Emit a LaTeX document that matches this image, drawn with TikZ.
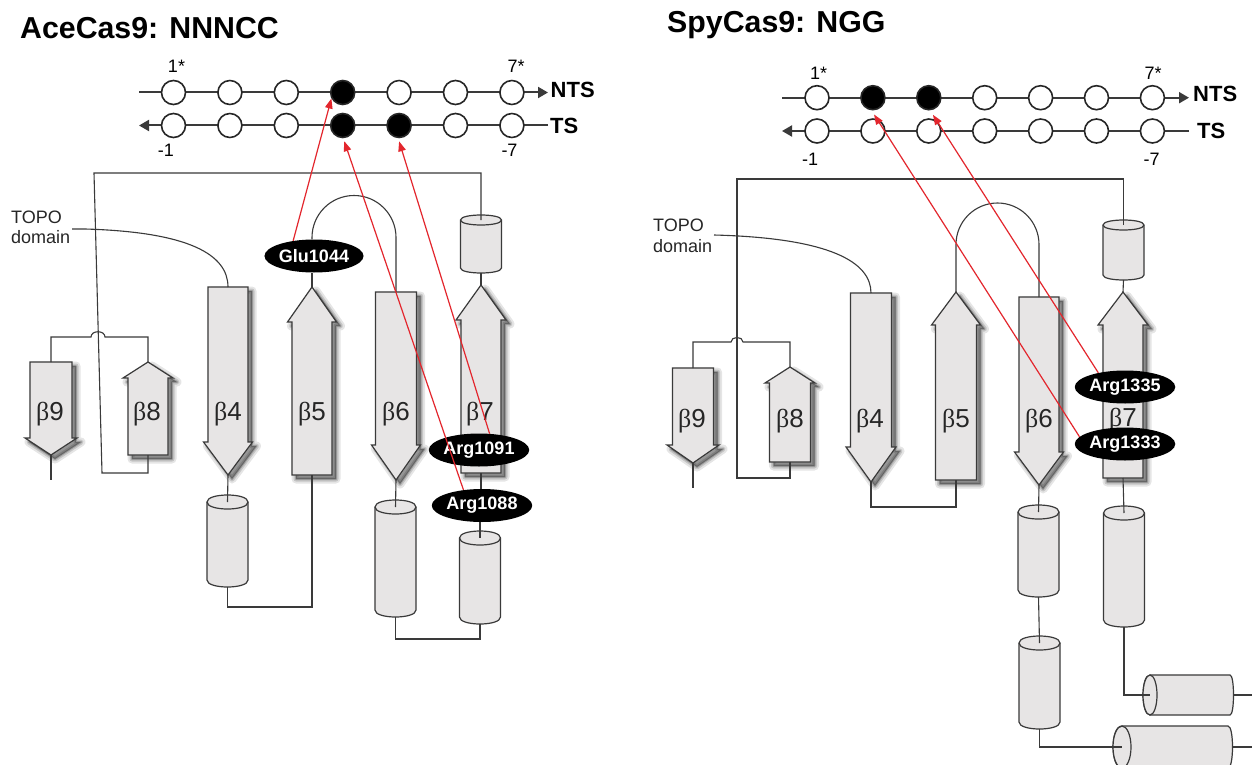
\documentclass[tikz,border=0pt]{standalone}
\usepackage{fontspec}
\setmainfont{Liberation Sans}
\newfontfamily\grkfont{Liberation Serif}
\usetikzlibrary{arrows.meta,shapes.geometric}
\definecolor{lc}{HTML}{3A3A3A}
\definecolor{sfill}{HTML}{E7E5E5}
\definecolor{redc}{HTML}{E3262D}
\tikzset{
  shadowA/.style={draw=black, draw opacity=0.10, line width=9pt, line join=round, fill=black, fill opacity=0.35},
  shadowB/.style={draw=black, draw opacity=0.14, line width=5pt, line join=round},
  shadowC/.style={draw=black, draw opacity=0.2, line width=2pt, line join=round},
  strandbody/.style={fill=sfill, draw=lc, line width=1.2pt, line join=miter},
  cylbody/.style={fill=sfill, draw=lc, line width=1.2pt},
  cylcap/.style={draw=lc, line width=1.2pt},
  conn/.style={draw=lc, line width=1.1pt},
  dnaline/.style={draw=lc, line width=2pt},
  nt/.style={circle, draw=black!85, line width=1.6pt, minimum size=24pt, inner sep=0pt},
  resid/.style={ellipse, fill=black, text=white, font=\fontsize{18}{18}\selectfont\bfseries, minimum width=82pt, minimum height=33pt, inner sep=0pt},
  redarrow/.style={draw=redc, line width=1.2pt, -{Triangle[length=10pt,width=7.5pt]}},
  blabel/.style={font=\fontsize{26}{26}\selectfont, text=black!85, anchor=base, inner sep=0pt},
  titlelab/.style={font=\fontsize{30.3}{31}\selectfont\bfseries, anchor=base west, inner sep=0pt},
  numlab/.style={font=\fontsize{18}{18}\selectfont, anchor=base, inner sep=0pt},
  strandlab/.style={font=\fontsize{22}{22}\selectfont\bfseries, anchor=base west, inner sep=0pt},
  topolab/.style={font=\fontsize{18}{18}\selectfont, anchor=base west, inner sep=0pt, text=black!85},
  dnahead/.style={-{Triangle[length=10pt,width=11pt]}},
}
\newcommand{\dnstrandpath}[6]{({#1-#5},#2) -- ({#1+#5},#2) -- ({#1+#5},#3) -- ({#1+#6},#3) -- (#1,#4) -- ({#1-#6},#3) -- ({#1-#5},#3) -- cycle}
\newcommand{\upstrandpath}[6]{(#1,#2) -- ({#1+#6},#3) -- ({#1+#5},#3) -- ({#1+#5},#4) -- ({#1-#5},#4) -- ({#1-#5},#3) -- ({#1-#6},#3) -- cycle}
% down strand: name cx top headbase tip halfshaft halfhead
\newcommand{\strandDn}[7]{%
  \path[shadowA, shift={(4,4)}] \dnstrandpath{#2}{#3}{#4}{#5}{#6}{#7};
  \path[shadowB, shift={(4,4)}] \dnstrandpath{#2}{#3}{#4}{#5}{#6}{#7};
  \path[shadowC, shift={(4,4)}] \dnstrandpath{#2}{#3}{#4}{#5}{#6}{#7};
  \path[strandbody] \dnstrandpath{#2}{#3}{#4}{#5}{#6}{#7};
  \coordinate (#1-top) at (#2,#3);
  \coordinate (#1-tip) at (#2,#5);
}
% up strand: name cx tip headbase bottom halfshaft halfhead
\newcommand{\strandUp}[7]{%
  \path[shadowA, shift={(4,4)}] \upstrandpath{#2}{#3}{#4}{#5}{#6}{#7};
  \path[shadowB, shift={(4,4)}] \upstrandpath{#2}{#3}{#4}{#5}{#6}{#7};
  \path[shadowC, shift={(4,4)}] \upstrandpath{#2}{#3}{#4}{#5}{#6}{#7};
  \path[strandbody] \upstrandpath{#2}{#3}{#4}{#5}{#6}{#7};
  \coordinate (#1-tip) at (#2,#3);
  \coordinate (#1-bot) at (#2,#5);
}
% vertical cylinder: name cx top bottom halfwidth ry
\newcommand{\cylV}[6]{%
  \path[cylbody] ({#2-#5},#3) -- ({#2-#5},#4) .. controls ({#2-#5},{#4+1.333*#6}) and ({#2+#5},{#4+1.333*#6}) .. ({#2+#5},#4) -- ({#2+#5},#3) .. controls ({#2+#5},{#3-1.333*#6}) and ({#2-#5},{#3-1.333*#6}) .. ({#2-#5},#3) -- cycle;
  \draw[cylcap] ({#2-#5},#3) .. controls ({#2-#5},{#3+1.333*#6}) and ({#2+#5},{#3+1.333*#6}) .. ({#2+#5},#3);
  \coordinate (#1-t) at (#2,#3);
  \coordinate (#1-b) at (#2,{#4+#6});
}
% horizontal cylinder: name leftcx rightchord cy halfheight leftrx rightbulge
\newcommand{\cylH}[7]{%
  \path[cylbody] (#2,{#4-#5}) -- (#3,{#4-#5}) .. controls ({#3+1.333*#7},{#4-#5}) and ({#3+1.333*#7},{#4+#5}) .. (#3,{#4+#5}) -- (#2,{#4+#5}) .. controls ({#2-1.333*#6},{#4+#5}) and ({#2-1.333*#6},{#4-#5}) .. (#2,{#4-#5}) -- cycle;
  \draw[cylbody] (#2,#4) ellipse [x radius=#6, y radius=#5];
  \coordinate (#1-l) at (#2,#4);
  \coordinate (#1-r) at ({#3+#7},#4);
}
\begin{document}
\begin{tikzpicture}[x=1pt,y=-1pt]
\useasboundingbox (0,0) rectangle (1252,765);
\fill[white] (0,0) rectangle (1252,765);

% ---------------- LEFT PANEL: AceCas9 ----------------
\node[titlelab] (ltitle) at (20,39) {AceCas9: NNNCC};

\strandDn{Lb9}{51}{362}{438}{455}{21}{26}
\strandUp{Lb8}{148}{362}{378}{455}{20}{25}
\strandDn{Lb4}{228}{287}{442}{475}{20}{24.5}
\strandUp{Lb5}{312}{287}{322}{475}{20}{24.5}
\strandDn{Lb6}{396}{292}{445}{480}{20.5}{24.5}
\strandUp{Lb7}{481}{285}{320}{473}{20}{25}

\node[blabel] (Lb9-lab) at (50,420) {{\grkfont β}9};
\node[blabel] (Lb8-lab) at (147,420) {{\grkfont β}8};
\node[blabel] (Lb4-lab) at (228,420) {{\grkfont β}4};
\node[blabel] (Lb5-lab) at (312,420) {{\grkfont β}5};
\node[blabel] (Lb6-lab) at (396,420) {{\grkfont β}6};
\node[blabel] (Lb7-lab) at (480,420) {{\grkfont β}7};

\cylV{LC0}{481}{220}{268}{20.5}{5}
\cylV{LC1}{227.5}{502}{580}{20.5}{7}
\cylV{LC2}{395.5}{507}{610}{20.5}{7}
\cylV{LC3}{480}{538}{617}{20.5}{7}

\node[resid] (glu) at (314,256) {Glu1044};
\node[resid] (a1091) at (479,450) {Arg1091};
\node[resid] (a1088) at (482,505.5) {Arg1088};

\node[topolab] (Ltopo1) at (11,223) {TOPO};
\node[topolab] (Ltopo2) at (11,243.5) {domain};

% connectors
\draw[conn] (LC0-t) -- (481,173) -- (94,173) -- (102,473) -- (148,473) -- (Lb8-bot);
\draw[conn] (Lb9-top) -- (51,337) -- (91,337) .. controls (91,330) and (105,330) .. (105,337) -- (148,337) -- (Lb8-tip);
\draw[conn] (Lb9-tip) -- ++(0,25);
\draw[conn] (72,229) -- (85,229) .. controls (190,232) and (228,255) .. (Lb4-top);
\draw[conn] (Lb4-tip) -- (LC1-t);
\draw[conn] (LC1-b) -- (227.5,607) -| (Lb5-bot);
\draw[conn] (Lb5-tip) -- (Lb5-tip |- glu.south);
\draw[conn] (Lb5-tip |- glu.north) -- (312,237.5) .. controls (312,214.3) and (330.8,195.5) .. (354,195.5) .. controls (377.2,195.5) and (396,214.3) .. (396,237.5) -- (Lb6-top);
\draw[conn] (Lb6-tip) -- (LC2-t);
\draw[conn] (LC2-b) -- (395.5,639) -| (LC3-b);
\draw[conn] (LC0-b) -- (Lb7-tip);
\draw[conn] (Lb7-bot) -- (Lb7-bot |- a1088.north);
\draw[conn] (a1088.south -| LC3-t) -- (LC3-t);

% DNA
\coordinate (LnS) at (139,92.5);
\coordinate (LnE) at (548,92.5);
\coordinate (LtS) at (548,125.5);
\coordinate (LtE) at (139,125.5);
\draw[dnaline, dnahead] (LnS) -- (LnE);
\draw[dnaline, dnahead] (LtS) -- (LtE);
\foreach \i/\f in {1/white,2/white,3/white,4/black,5/white,6/white,7/white}
  \node[nt, fill=\f] (Ln\i) at ({173.5+56.4*(\i-1)},92.5) {};
\foreach \i/\f in {1/white,2/white,3/white,4/black,5/black,6/white,7/white}
  \node[nt, fill=\f] (Lt\i) at ({173.5+56.4*(\i-1)},125.5) {};
\node[numlab] (Ll1) at (176.5,72.3) {1*};
\node[numlab] (Ll7) at (516,72.3) {7*};
\node[numlab] (Llm1) at (166,157) {-1};
\node[numlab] (Llm7) at (509.5,157) {-7};
\node[strandlab] (Lnts) at (550.5,98) {NTS};
\node[strandlab] (Lts) at (550,133) {TS};

\draw[redarrow] (glu.144) -- (Ln4.208);
\draw[redarrow] (a1088.140) -- ([yshift=-3pt]Lt4.277);
\draw[redarrow] (a1091.57) -- ([yshift=-3pt]Lt5.270);

% ---------------- RIGHT PANEL: SpyCas9 ----------------
\node[titlelab] (rtitle) at (667,33) {SpyCas9: NGG};

\strandDn{Rb9}{693}{368}{445}{463}{20.5}{26}
\strandUp{Rb8}{790}{367}{383}{462}{20.5}{25}
\strandDn{Rb4}{871}{293}{447}{482}{20.5}{25}
\strandUp{Rb5}{956}{292}{325}{480}{20.5}{24.5}
\strandDn{Rb6}{1039}{297}{452}{485}{20}{24.5}
\strandUp{Rb7}{1123}{292}{325}{478}{20}{25}

\node[blabel] (Rb9-lab) at (692,427) {{\grkfont β}9};
\node[blabel] (Rb8-lab) at (790,427) {{\grkfont β}8};
\node[blabel] (Rb4-lab) at (870,427) {{\grkfont β}4};
\node[blabel] (Rb5-lab) at (956,427) {{\grkfont β}5};
\node[blabel] (Rb6-lab) at (1039,427) {{\grkfont β}6};
\node[blabel] (Rb7-lab) at (1123,426) {{\grkfont β}7};

\cylV{RC0}{1123.5}{225}{275}{20.5}{5}
\cylV{RCA}{1038.5}{512}{590}{20.5}{7}
\cylV{RCB}{1039.5}{643}{722}{20.5}{7}
\cylV{RCC}{1124}{513}{620}{20.5}{7}
\cylH{RCE}{1150}{1230}{695}{20}{7}{3.5}
\cylH{RCD}{1122}{1228}{747}{21}{9}{4.5}

\node[resid] (a1335) at (1125,387) {Arg1335};
\node[resid] (a1333) at (1125,444) {Arg1333};

\node[topolab] (Rtopo1) at (653,231) {TOPO};
\node[topolab] (Rtopo2) at (653,252) {domain};

\draw[conn] (RC0-t) -- (1123.5,179) -- (737,179) -- (737,478) -- (790,478) -- (Rb8-bot);
\draw[conn] (Rb9-top) -- (693,342) -- (731,342) .. controls (731,336) and (743,336) .. (743,342) -- (790,342) -- (Rb8-tip);
\draw[conn] (Rb9-tip) -- ++(0,25);
\draw[conn] (714,235) .. controls (830,238) and (871,262) .. (Rb4-top);
\draw[conn] (Rb4-tip) -- (871,507) -| (Rb5-bot);
\draw[conn] (Rb5-tip) -- (956,244.5) .. controls (956,221.6) and (974.6,203) .. (997.5,203) .. controls (1020.4,203) and (1039,221.6) .. (1039,244.5) -- (Rb6-top);
\draw[conn] (Rb6-tip) -- (RCA-t);
\draw[conn] (RCA-b) -- (RCB-t);
\draw[conn] (RCB-b) |- (RCD-l);
\draw[conn] (Rb7-bot) -- (RCC-t);
\draw[conn] (RCC-b) |- (RCE-l);
\draw[conn] (RCD-r) -- (1252,747);
\draw[conn] (RCE-r) -- (1252,695);
\draw[conn] (RC0-b) -- (Rb7-tip);

\coordinate (RnS) at (782,97.7);
\coordinate (RnE) at (1189,97.7);
\coordinate (RtS) at (1189,131);
\coordinate (RtE) at (782,131);
\draw[dnaline, dnahead] (RnS) -- (RnE);
\draw[dnaline, dnahead] (RtS) -- (RtE);
\foreach \i/\f in {1/white,2/black,3/black,4/white,5/white,6/white,7/white}
  \node[nt, fill=\f] (Rn\i) at ({817+55.9*(\i-1)},97.7) {};
\foreach \i in {1,...,7}
  \node[nt, fill=white] (Rt\i) at ({817+55.9*(\i-1)},131) {};
\node[numlab] (Rl1) at (818.5,80) {1*};
\node[numlab] (Rl7) at (1153,80) {7*};
\node[numlab] (Rlm1) at (810,165) {-1};
\node[numlab] (Rlm7) at (1151.5,165) {-7};
\node[strandlab] (Rnts) at (1193,101.7) {NTS};
\node[strandlab] (Rts) at (1197,139) {TS};

\draw[redarrow] (a1335.152) -- ([yshift=-5pt]Rn3.289);
\draw[redarrow] (a1333.171) -- ([yshift=-4pt]Rn2.275);
\end{tikzpicture}
\end{document}
